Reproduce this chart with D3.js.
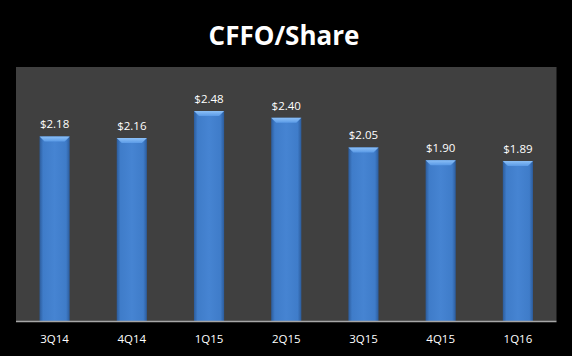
<!DOCTYPE html>
<html><head><meta charset="utf-8">
<script src="https://cdn.jsdelivr.net/npm/d3@7"></script>
<style>html,body{margin:0;padding:0;background:#000;}svg{display:block;}</style>
</head><body>
<script>
const categories = ["3Q14","4Q14","1Q15","2Q15","3Q15","4Q15","1Q16"];
const values = [2.18, 2.16, 2.48, 2.40, 2.05, 1.90, 1.89];
const valueLabels = ["$2.18","$2.16","$2.48","$2.40","$2.05","$1.90","$1.89"];
const title = "CFFO/Share";

const W = 572, H = 356;
const plot = {left: 16, right: 556.5, top: 67, bottom: 321};

const svg = d3.select("body").append("svg").attr("width", W).attr("height", H);
svg.append("rect").attr("width", W).attr("height", H).attr("fill", "#000");

const defs = svg.append("defs");
const g1 = defs.append("linearGradient").attr("id","barGrad").attr("x1","0").attr("x2","1").attr("y1","0").attr("y2","0");
g1.append("stop").attr("offset","0%").attr("stop-color","#2c5c9c");
g1.append("stop").attr("offset","12%").attr("stop-color","#3f7cc9");
g1.append("stop").attr("offset","50%").attr("stop-color","#4684d2");
g1.append("stop").attr("offset","88%").attr("stop-color","#3f7cc9");
g1.append("stop").attr("offset","100%").attr("stop-color","#2c5c9c");
const g2 = defs.append("linearGradient").attr("id","bevelGrad").attr("x1","0").attr("x2","0").attr("y1","0").attr("y2","1");
g2.append("stop").attr("offset","0%").attr("stop-color","#8cc0f7");
g2.append("stop").attr("offset","100%").attr("stop-color","#5a9ae6");

svg.append("rect").attr("x", plot.left).attr("y", plot.top)
  .attr("width", plot.right - plot.left).attr("height", plot.bottom - plot.top)
  .attr("fill", "#404040");

const x = d3.scaleBand().domain(categories).range([plot.left, plot.right]).paddingInner(0.61).paddingOuter(0.305);
const y = d3.scaleLinear().domain([0, 3]).range([plot.bottom, plot.top]);

const data = categories.map((c,i)=>({c, v: values[i], l: valueLabels[i]}));

const bars = svg.append("g");
bars.selectAll("rect.bar").data(data).enter().append("rect")
  .attr("class","bar")
  .attr("x", d => x(d.c)).attr("y", d => y(d.v))
  .attr("width", x.bandwidth()).attr("height", d => y(0) - y(d.v))
  .attr("fill", "url(#barGrad)");

const bev = 5;
bars.selectAll("path.bevel").data(data).enter().append("path")
  .attr("class","bevel")
  .attr("d", d => {
    const x0 = x(d.c), x1 = x0 + x.bandwidth(), yt = y(d.v);
    return `M${x0},${yt}L${x1},${yt}L${x1-bev},${yt+bev}L${x0+bev},${yt+bev}Z`;
  })
  .attr("fill", "url(#bevelGrad)");

svg.append("line").attr("x1", plot.left).attr("x2", plot.right)
  .attr("y1", plot.bottom + 0.5).attr("y2", plot.bottom + 0.5)
  .attr("stroke", "#a6a6a6").attr("stroke-width", 1.5);

svg.append("g").selectAll("text").data(data).enter().append("text")
  .attr("x", d => x(d.c) + x.bandwidth()/2)
  .attr("y", d => y(d.v) - 8)
  .attr("text-anchor","middle")
  .attr("font-family","'Open Sans', sans-serif")
  .attr("font-size", 11.5)
  .attr("fill","#fff")
  .text(d => d.l);

const xAxis = svg.append("g").attr("transform", `translate(0,${plot.bottom})`)
  .call(d3.axisBottom(x).tickSize(0).tickPadding(14));
xAxis.select(".domain").remove();
xAxis.selectAll("text").attr("fill","#fff").attr("font-size", 11.5)
  .attr("font-family","'Open Sans', sans-serif");

svg.append("text").attr("x", 284).attr("y", 45)
  .attr("text-anchor","middle")
  .attr("font-family","'Open Sans', sans-serif")
  .attr("font-weight","bold")
  .attr("font-size", 26)
  .attr("fill","#fff")
  .text(title);
</script>
</body></html>
